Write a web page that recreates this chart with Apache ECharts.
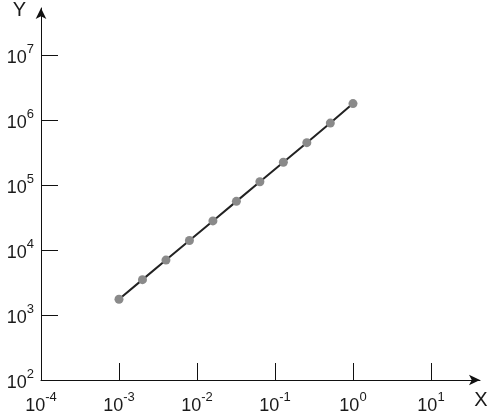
<!DOCTYPE html>
<html>
<head>
<meta charset="utf-8">
<script src="https://cdn.jsdelivr.net/npm/echarts@6/dist/echarts.min.js"></script>
<style>
  html, body { margin: 0; padding: 0; background: #fff; }
  #chart { width: 488px; height: 413px; }
</style>
</head>
<body>
<div id="chart"></div>
<script>
// Data
const xValues = [0.001, 0.002, 0.004, 0.008, 0.016, 0.032, 0.064, 0.128, 0.256, 0.512, 1.0];
const yValues = [1750, 3500, 7000, 14000, 28000, 56000, 112000, 224000, 448000, 896000, 1790000];

// Axis ticks and labels
const xTickValues = [0.001, 0.01, 0.1, 1, 10];
const xLabelValues = [0.0001, 0.001, 0.01, 0.1, 1, 10];
const xLabelExponents = ['-4', '-3', '-2', '-1', '0', '1'];
const yTickValues = [1e3, 1e4, 1e5, 1e6, 1e7];
const yLabelValues = [1e2, 1e3, 1e4, 1e5, 1e6, 1e7];
const yLabelExponents = ['2', '3', '4', '5', '6', '7'];

const seriesData = xValues.map((x, i) => [x, yValues[i]]);

function makeFormatter(values, exps) {
  return function (v) {
    let best = 0, bestD = Infinity;
    for (let i = 0; i < values.length; i++) {
      const d = Math.abs(Math.log10(v) - Math.log10(values[i]));
      if (d < bestD) { bestD = d; best = i; }
    }
    return '{b|10}{s|' + exps[best] + '}';
  };
}

const FONT = '"Liberation Sans", Arial, Helvetica, sans-serif';
const rich = {
  b: { fontSize: 18, fontFamily: FONT, color: '#1a1a1a', lineHeight: 24, verticalAlign: 'bottom' },
  s: { fontSize: 13, fontFamily: FONT, color: '#1a1a1a', lineHeight: 13, verticalAlign: 'top' }
};

const axisLineStyle = { color: '#111', width: 1 };

const chart = echarts.init(document.getElementById('chart'), null, { renderer: 'canvas' });
chart.setOption({
  animation: false,
  backgroundColor: '#ffffff',
  grid: { left: 41, right: 8, top: 8, bottom: 33, containLabel: false, outerBoundsMode: 'none' },
  xAxis: {
    type: 'log',
    logBase: 10,
    min: 0.0001,
    max: 42.5,
    name: 'X',
    nameLocation: 'end',
    nameGap: 1,
    nameTextStyle: { fontSize: 20, fontFamily: FONT, color: '#1a1a1a', align: 'center', verticalAlign: 'top', padding: [10, 0, 0, 0] },
    axisLine: { show: true, lineStyle: axisLineStyle, symbol: ['none', 'arrow'], symbolSize: [8, 11] },
    axisTick: { show: true, inside: true, length: 17, lineStyle: axisLineStyle, customValues: xTickValues },
    axisLabel: { show: true, margin: 11, customValues: xLabelValues, formatter: makeFormatter(xLabelValues, xLabelExponents), rich: rich },
    splitLine: { show: false },
    minorTick: { show: false }
  },
  yAxis: {
    type: 'log',
    logBase: 10,
    min: 100,
    max: 52850000,
    name: 'Y',
    nameLocation: 'end',
    nameGap: -2,
    nameTextStyle: { fontSize: 20, fontFamily: FONT, color: '#1a1a1a', align: 'right', verticalAlign: 'middle', padding: [0, 15, 0, 0] },
    axisLine: { show: true, lineStyle: axisLineStyle, symbol: ['none', 'arrow'], symbolSize: [8, 11] },
    axisTick: { show: true, inside: true, length: 17, lineStyle: axisLineStyle, customValues: yTickValues },
    axisLabel: { show: true, margin: 7, customValues: yLabelValues, formatter: makeFormatter(yLabelValues, yLabelExponents), rich: rich },
    splitLine: { show: false },
    minorTick: { show: false }
  },
  series: [{
    type: 'line',
    data: seriesData,
    symbol: 'circle',
    symbolSize: 9,
    showSymbol: true,
    itemStyle: { color: '#8a8a8a' },
    lineStyle: { color: '#222', width: 2 },
    z: 3
  }]
});
</script>
</body>
</html>
